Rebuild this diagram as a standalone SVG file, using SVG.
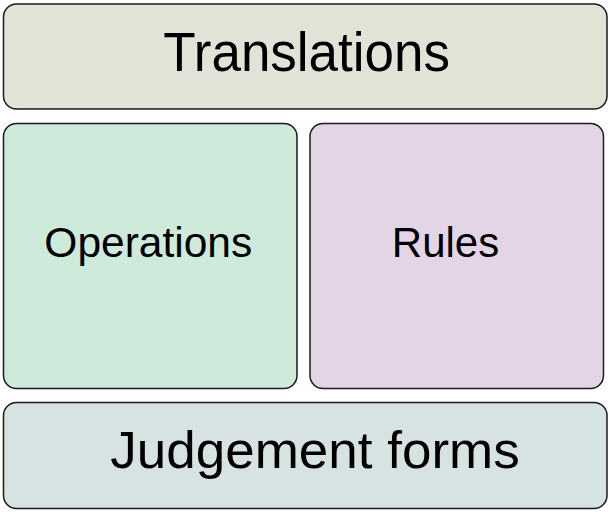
<svg xmlns="http://www.w3.org/2000/svg" width="611" height="512" viewBox="0 0 611 512">
<style>
.box{stroke:#1a1a1a;stroke-width:1.5}
.t{font-family:"Liberation Sans",Arial,sans-serif;fill:#000;text-anchor:middle}
</style>
<rect width="611" height="512" fill="#fff"/>
<g id="translations"><rect class="box" x="3.5" y="4" width="603.5" height="105" rx="13" fill="#e1e3d6"/><text class="t" transform="translate(306.7,71) scale(1,1.05)" font-size="53">Translations</text></g>
<g id="operations"><rect class="box" x="3.5" y="123.5" width="293.5" height="265" rx="13" fill="#cdeadb"/><text class="t" x="148.3" y="257" font-size="42.5">Operations</text></g>
<g id="rules"><rect class="box" x="310" y="123.5" width="293.5" height="265" rx="13" fill="#e3d5e5"/><text class="t" x="445.5" y="256.5" font-size="42">Rules</text></g>
<g id="judgement"><rect class="box" x="3.5" y="402.5" width="603.5" height="106" rx="13" fill="#d6e3e2"/><text class="t" transform="translate(315,468) scale(1,0.97)" font-size="53">Judgement forms</text></g>
<g id="connectors"/>
</svg>
